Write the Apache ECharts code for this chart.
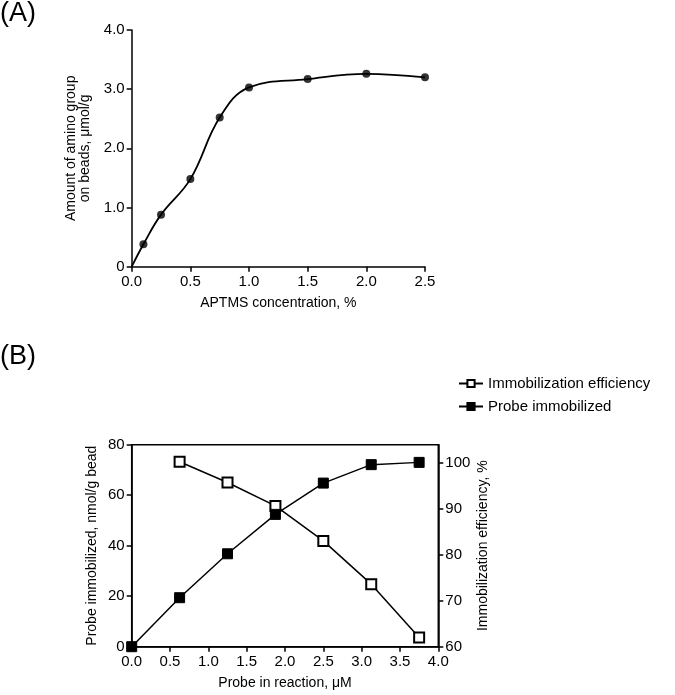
<!DOCTYPE html>
<html><head><meta charset="utf-8">
<script src="https://cdn.jsdelivr.net/npm/echarts@6/dist/echarts.min.js"></script>
<style>html,body{margin:0;padding:0;background:#fff}#c{width:675px;height:695px}</style>
</head><body><div id="c"></div>
<script>
// Panel A data
const aptmsConc = [0, 0.1, 0.25, 0.5, 0.75, 1.0, 1.5, 2.0, 2.5];
const aminoAmount = [0, 0.38, 0.88, 1.48, 2.52, 3.03, 3.17, 3.26, 3.20];
// Panel B data
const probeConc = [0, 0.625, 1.25, 1.875, 2.5, 3.125, 3.75];
const probeImmobilized = [0, 19.4, 36.8, 52.4, 64.8, 72.1, 73.0];
const effConc = [0.625, 1.25, 1.875, 2.5, 3.125, 3.75];
const immobEfficiency = [100.2, 95.7, 90.6, 83.0, 73.6, 62.0];

const FONT = 'Liberation Sans, Arial, sans-serif';
const pairs = (xs, ys) => xs.map((x, i) => [x, ys[i]]);

const axisCommon = {
  axisLine: {show: true, onZero: false, lineStyle: {color: '#000', width: 1.5}},
  axisTick: {show: true, length: 5, lineStyle: {color: '#000', width: 1.5}},
  splitLine: {show: false},
  axisLabel: {color: '#000', fontFamily: FONT, fontSize: 15},
  nameTextStyle: {color: '#000', fontFamily: FONT, fontSize: 14},
  nameLocation: 'middle'
};
const ax = (o) => Object.assign({}, JSON.parse(JSON.stringify(axisCommon)), o,
  {axisLabel: Object.assign({}, axisCommon.axisLabel, o.axisLabel || {})});

const chart = echarts.init(document.getElementById('c'), null, {renderer: 'canvas'});
chart.setOption({
  backgroundColor: '#fff',
  animation: false,
  graphic: [
    {type: 'text', left: 0, top: 0, style: {text: '(A)', font: '27px ' + FONT, fill: '#000'}},
    {type: 'text', left: 0, top: 343, style: {text: '(B)', font: '27px ' + FONT, fill: '#000'}}
  ],
  legend: {
    orient: 'vertical', left: 453, top: 371, itemWidth: 24, itemHeight: 9, itemGap: 8,
    textStyle: {color: '#000', fontFamily: FONT, fontSize: 15},
    data: ['Immobilization efficiency', 'Probe immobilized']
  },
  grid: [
    {left: 131.7, top: 30, width: 293.3, height: 236.7},
    {left: 131.7, top: 444.7, width: 306.6, height: 202, show: true, borderColor: '#000', borderWidth: 1.5}
  ],
  xAxis: [
    ax({type: 'value', gridIndex: 0, min: 0, max: 2.5, interval: 0.5,
      name: 'APTMS concentration, %', nameGap: 29,
      axisLabel: {margin: 8, formatter: v => v.toFixed(1)}}),
    ax({type: 'value', gridIndex: 1, min: 0, max: 4, interval: 0.5,
      name: 'Probe in reaction, μM', nameGap: 29,
      axisLabel: {margin: 8, formatter: v => v.toFixed(1)}})
  ],
  yAxis: [
    ax({type: 'value', gridIndex: 0, min: 0, max: 4, interval: 1,
      name: 'Amount of amino group\non beads, μmol/g', nameGap: 40, nameRotate: 90,
      axisLabel: {margin: 7, formatter: v => v === 0 ? '0' : v.toFixed(1)}}),
    ax({type: 'value', gridIndex: 1, min: 0, max: 80, interval: 20,
      name: 'Probe immobilized, nmol/g bead', nameGap: 33, nameRotate: 90,
      axisLabel: {margin: 7}}),
    ax({type: 'value', gridIndex: 1, position: 'right', min: 60, max: 103.91, interval: 10,
      name: 'Immobilization efficiency, %', nameGap: 38, nameRotate: 90,
      axisLabel: {margin: 7, showMaxLabel: false, formatter: v => (v > 101 ? '' : String(v))}})
  ],
  series: [
    {type: 'line', name: 'curveA', xAxisIndex: 0, yAxisIndex: 0, smooth: 0.4,
      data: pairs(aptmsConc, aminoAmount), showSymbol: false, symbol: 'none',
      lineStyle: {color: '#000', width: 1.8}, silent: true},
    {type: 'scatter', name: 'pointsA', xAxisIndex: 0, yAxisIndex: 0,
      data: pairs(aptmsConc.slice(1), aminoAmount.slice(1)), symbol: 'circle', symbolSize: 8,
      itemStyle: {color: '#000'}},
    {type: 'line', name: 'Immobilization efficiency', xAxisIndex: 1, yAxisIndex: 2,
      data: pairs(effConc, immobEfficiency), symbol: 'rect', symbolSize: 10, showAllSymbol: true,
      lineStyle: {color: '#000', width: 1.5},
      itemStyle: {color: '#fff', borderColor: '#000', borderWidth: 2}},
    {type: 'line', name: 'Probe immobilized', xAxisIndex: 1, yAxisIndex: 1,
      data: pairs(probeConc, probeImmobilized), symbol: 'rect', symbolSize: 10, showAllSymbol: true,
      lineStyle: {color: '#000', width: 1.5},
      itemStyle: {color: '#000', borderColor: '#000', borderWidth: 1}}
  ]
});
</script></body></html>
